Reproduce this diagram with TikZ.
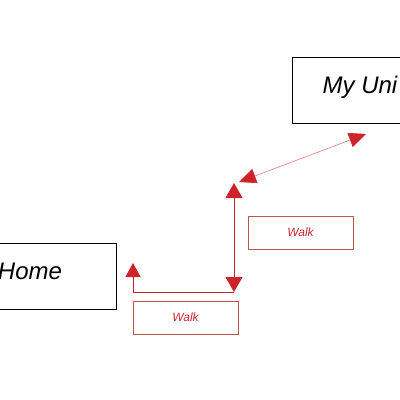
\documentclass[tikz,border=0pt]{standalone}
\usepackage{fontspec}
\setmainfont{Liberation Sans}
\usetikzlibrary{arrows.meta}
\definecolor{arrred}{RGB}{205,35,42}
\definecolor{boxred}{RGB}{196,82,80}
\definecolor{txtred}{RGB}{200,38,50}
\definecolor{diagred}{RGB}{226,120,120}
\tikzset{
  place/.style={draw=black, line width=0.9pt, minimum height=66pt, inner sep=0pt},
  walkbox/.style={draw=boxred, line width=0.8pt, minimum width=105pt, minimum height=33pt, inner sep=0pt, font=\fontsize{12}{13}\selectfont\itshape, text=txtred},
  tri/.style={-{Triangle[length=14pt,width=15pt]}},
  redline/.style={draw=arrred, line width=1pt},
}
\begin{document}
\begin{tikzpicture}[x=1pt,y=-1pt]
\useasboundingbox (0,0) rectangle (400,400);
\node[place, minimum width=122pt] (home) at (55,276) {};
\node[font=\fontsize{24}{28}\selectfont\itshape, inner sep=0pt] (hometext) at (30,271) {Home};
\node[place, minimum width=130pt] (uni) at (357,90.5) {};
\node[font=\fontsize{24}{28}\selectfont\itshape, inner sep=0pt] (unitext) at (360,87) {My Uni};
\node[walkbox] (walk1) at (185.5,317.5) {Walk};
\node[walkbox] (walk2) at (300.5,232.5) {Walk};
\coordinate (a1) at (133,263);
\coordinate (c1) at (133,292);
\coordinate (b1) at (234,292);
\coordinate (t1) at (234,183);
\coordinate (d1) at (239,182);
\coordinate (d2) at (366,134);
\draw[redline, tri] (b1) -- (c1) -- (a1);
\draw[redline, {Triangle[length=15pt,width=17pt]}-{Triangle[length=15pt,width=17pt]}] (t1) -- (b1);
\draw[line width=0.6pt, draw=diagred, {Triangle[length=17pt,width=15pt,color=arrred,fill=arrred]}-{Triangle[length=17pt,width=15pt,color=arrred,fill=arrred]}] (d1) -- (d2);
\end{tikzpicture}
\end{document}
